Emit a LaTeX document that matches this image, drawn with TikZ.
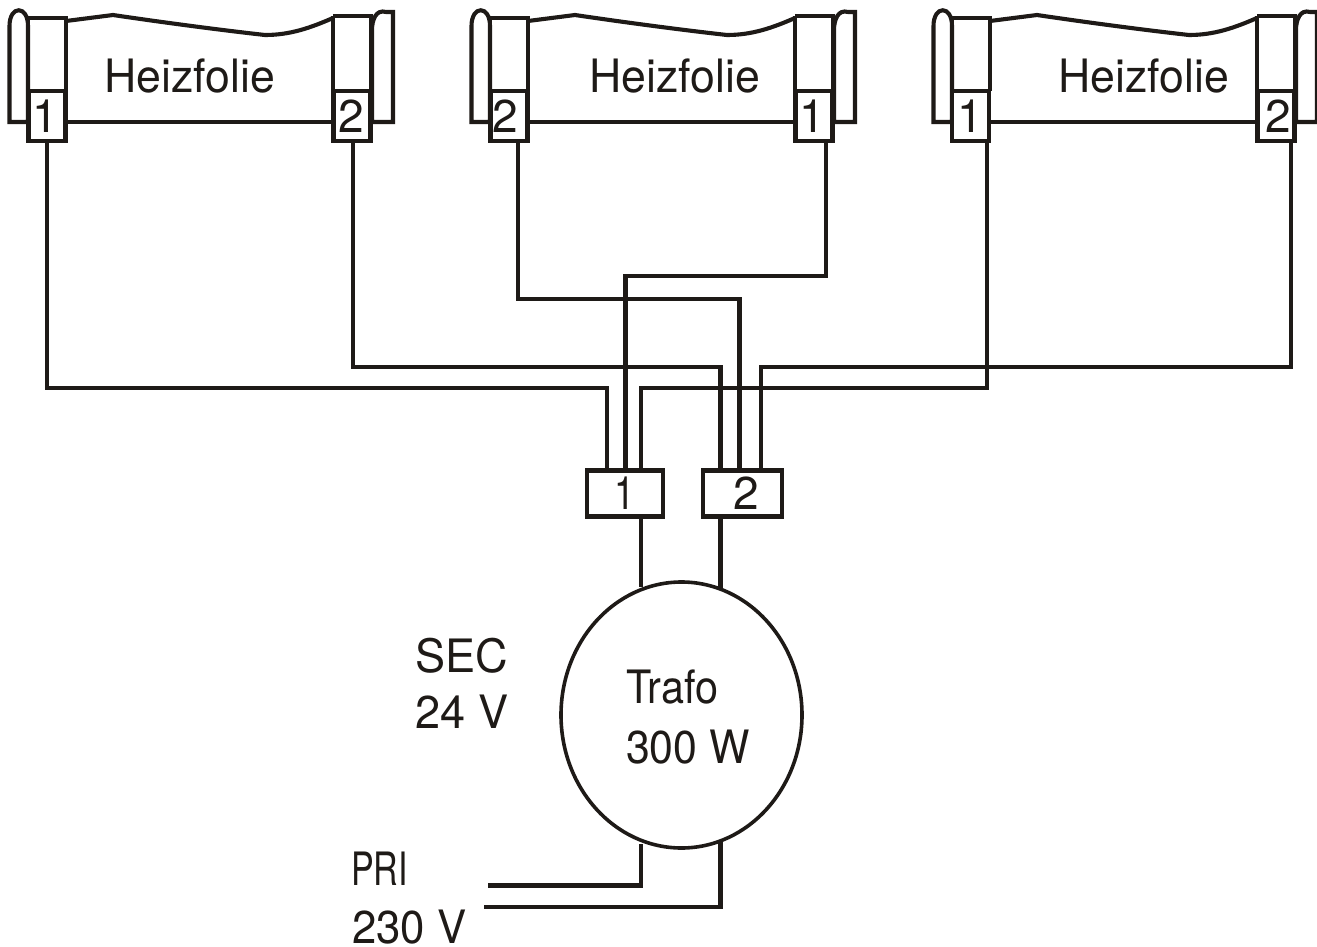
\documentclass[tikz,border=0pt]{standalone}
\usepackage{fontspec}
\setmainfont{TeX Gyre Heros}
\usetikzlibrary{shapes.geometric}
\definecolor{ink}{HTML}{1E1A17}
\tikzset{
  wire/.style={line width=4.1pt,line cap=butt,line join=miter,color=ink},
  term/.style={draw=ink,line width=4.1pt,fill=white,minimum width=37pt,minimum height=50pt,inner sep=0pt,font=\fontsize{46}{46}\selectfont,text=ink},
  bar/.style={draw=ink,line width=4.1pt,fill=white,minimum height=46pt,inner sep=0pt,font=\fontsize{46}{46}\selectfont,text=ink},
  lbl/.style={inner sep=0pt,anchor=base west,text=ink,font=\fontsize{46}{52}\selectfont},
}
\newcommand{\sx}[2]{\scalebox{#1}[1]{#2}}
\newcommand{\heater}[1]{%
  \begin{scope}[shift={(#1,0)}]
    \draw[wire] (28,122) -- (9.5,122) -- (9.5,26) .. controls (9.5,5) and (28,5) .. (28,26) -- (28,122);
    \draw[wire] (371,122) -- (393,122) -- (393,12) -- (386,12) .. controls (376,9) and (372,20) .. (372,30) -- (372,122);
    \draw[wire] (66,21) -- (113,15) .. controls (160,22) and (220,30) .. (265,35) .. controls (290,35) and (310,28) .. (333,18);
    \draw[wire] (66,122) -- (333,122);
    \draw[wire] (28,18) -- (66,18) -- (66,91) (28,18) -- (28,91);
    \draw[wire] (333,16) -- (371,16) -- (371,91) (333,16) -- (333,91);
  \end{scope}}
\begin{document}
\begin{tikzpicture}[x=1pt,y=-1pt]
\useasboundingbox (0,0) rectangle (1317,947);
\clip (0,0) rectangle (1317,947);
\heater{0}
\heater{462}
\heater{924}
\node[lbl] (ha) at (104.5,93) {\sx{.97}{Heizfolie}};
\node[lbl] (hb) at (589,93) {\sx{.97}{Heizfolie}};
\node[lbl] (hc) at (1058,93) {\sx{.97}{Heizfolie}};
\node[term] (a1) at (47,116) {\raisebox{-2pt}{\hspace*{-4pt}1}};
\node[term] (a2) at (352,116) {\raisebox{-2pt}{\hspace*{-2pt}2}};
\node[term] (b2) at (509,116) {\raisebox{-2pt}{\hspace*{-8pt}2}};
\node[term] (b1) at (814,116) {\raisebox{-2pt}{\hspace*{-4pt}1}};
\node[term] (c1) at (970.5,116) {\raisebox{-2pt}{1}};
\node[term] (c2) at (1276,116) {\raisebox{-2pt}{\hspace*{4pt}2}};
\node[bar,minimum width=76pt] (s1) at (625,493.5) {\raisebox{-1pt}{\sx{.8}{1}}};
\node[bar,minimum width=79pt] (s2) at (742.5,493.5) {\raisebox{-1pt}{\hspace*{7pt}2}};
\node[draw=ink,line width=3.6pt,ellipse,minimum width=241pt,minimum height=266pt,inner sep=0pt] (tr) at (681.5,715) {};
\node[lbl] (t1) at (626,703) {\sx{.9}{Trafo}};
\node[lbl] (t2) at (626,763) {\sx{.93}{300 W}};
\node[lbl] (sa) at (415,672) {\sx{.98}{SEC}};
\node[lbl] (sb) at (415.5,728) {\sx{.98}{24 V}};
\node[lbl] (pa) at (351,885) {\sx{.74}{PRI}};
\node[lbl] (pb) at (352,943) {\sx{.95}{230 V}};
\coordinate (pe1) at (488,885.5);
\coordinate (pe2) at (484,907);
\draw[wire] (a1.south -| 47,0) -- (47,388) -| (607,0 |- s1.north);
\draw[wire] (a2.south -| 353,0) -- (353,367) -| (720.5,0 |- s2.north);
\draw[wire] (b2.south -| 518,0) -- (518,299) -| (739.5,0 |- s2.north);
\draw[wire] (b1.south -| 826,0) -- (826,276) -| (625.5,0 |- s1.north);
\draw[wire] (c1.south -| 987,0) -- (987,388) -| (641,0 |- s1.north);
\draw[wire] (c2.south -| 1291,0) -- (1291,367) -| (761,0 |- s2.north);
\draw[wire] (s1.south -| 641,0) -- (641,587);
\draw[wire] (s2.south -| 720.5,0) -- (720.5,590);
\draw[wire] (641,844) -- (641,885.5) -- (pe1);
\draw[wire] (720.5,841) -- (720.5,907) -- (pe2);
\end{tikzpicture}
\end{document}
